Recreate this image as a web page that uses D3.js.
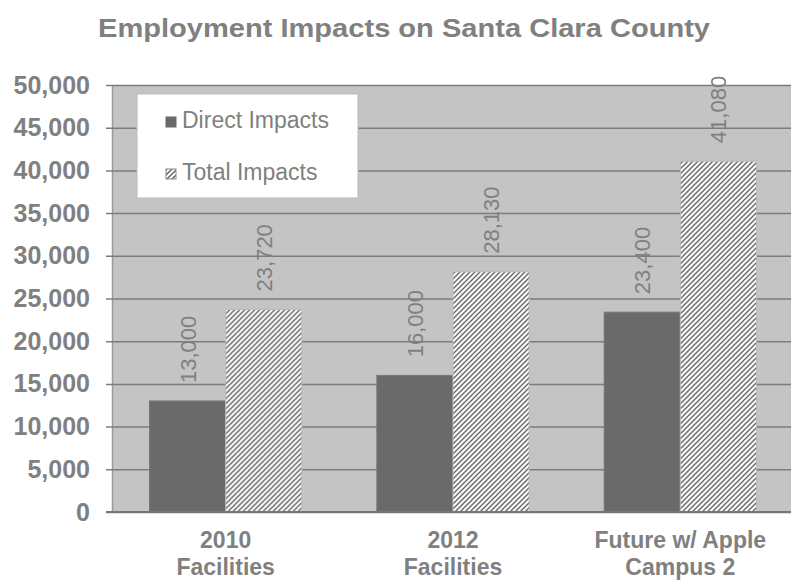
<!DOCTYPE html>
<html>
<head>
<meta charset="utf-8">
<script src="https://cdn.jsdelivr.net/npm/d3@7"></script>
<style>
  body { margin: 0; background: #fff; }
  svg { display: block; font-family: "Liberation Sans", Arial, sans-serif; }
</style>
</head>
<body>
<div id="chart"></div>
<script>
// chart data
var categories = [["2010", "Facilities"], ["2012", "Facilities"], ["Future w/ Apple", "Campus 2"]];
var seriesNames = ["Direct Impacts", "Total Impacts"];
var directValues = [13000, 16000, 23400];
var totalValues = [23720, 28130, 41080];
var yTicks = [0, 5000, 10000, 15000, 20000, 25000, 30000, 35000, 40000, 45000, 50000];

var width = 791, height = 583;
var margin = {left: 112, right: -3, top: 85, bottom: 71};
var textGrey = "#808080";

var svg = d3.select("#chart")
    .append("svg")
    .attr("width", width)
    .attr("height", height);

var defs = svg.append("defs");
var hatch = defs.append("pattern")
    .attr("id", "hatch")
    .attr("patternUnits", "userSpaceOnUse")
    .attr("width", 5)
    .attr("height", 5);
hatch.append("rect").attr("width", 5).attr("height", 5).attr("fill", "#fff");
hatch.append("path")
    .attr("d", "M0,5 L5,0 M-1,1 L1,-1 M4,6 L6,4")
    .attr("stroke", "#5a5a5a")
    .attr("stroke-width", 1.3);

var x0 = d3.scaleBand()
    .domain(d3.range(categories.length))
    .range([margin.left, width - margin.right])
    .paddingInner(0.33)
    .paddingOuter(0.165);
var x1 = d3.scaleBand()
    .domain(seriesNames)
    .range([0, x0.bandwidth()]);
var y = d3.scaleLinear()
    .domain([0, 50000])
    .range([height - margin.bottom, margin.top]);

// plot background
svg.append("rect")
    .attr("x", margin.left)
    .attr("y", margin.top)
    .attr("width", width - margin.left - margin.right)
    .attr("height", y(0) - margin.top)
    .attr("fill", "#c4c4c4");

// gridlines and ticks
var yAxis = svg.append("g")
    .attr("transform", "translate(" + margin.left + ",0)")
    .call(d3.axisLeft(y)
        .tickValues(yTicks)
        .tickSizeInner(-(width - margin.left - margin.right))
        .tickSizeOuter(0)
        .tickPadding(22)
        .tickFormat(d3.format(",")));
yAxis.select(".domain").attr("stroke", "#9a9a9a").attr("stroke-width", 1.5);
yAxis.selectAll(".tick line")
    .attr("x1", -6)
    .attr("stroke", "#7c7c7c")
    .attr("stroke-width", 1.5);
yAxis.selectAll(".tick text")
    .attr("fill", textGrey)
    .style("font-size", "25px")
    .style("font-weight", "bold");

// bars
var rows = categories.map(function(c, i) {
  return [{i: i, s: seriesNames[0], v: directValues[i]}, {i: i, s: seriesNames[1], v: totalValues[i]}];
});
var groups = svg.selectAll("g.group")
    .data(rows)
    .enter()
    .append("g")
    .attr("class", "group")
    .attr("transform", function(d, i) { return "translate(" + x0(i) + ",0)"; });

groups.selectAll("rect")
    .data(function(d) { return d; })
    .enter()
    .append("rect")
    .attr("x", function(d) { return x1(d.s); })
    .attr("y", function(d) { return y(d.v); })
    .attr("width", x1.bandwidth())
    .attr("height", function(d) { return y(0) - y(d.v); })
    .attr("fill", function(d) { return d.s == seriesNames[0] ? "#6a6a6a" : "url(#hatch)"; })
    .attr("stroke", function(d) { return d.s == seriesNames[0] ? "#777" : "#bbb"; })
    .attr("stroke-width", 1);

// value labels, rotated
groups.selectAll("text.value")
    .data(function(d) { return d; })
    .enter()
    .append("text")
    .attr("class", "value")
    .attr("transform", function(d) {
      return "translate(" + (x1(d.s) + x1.bandwidth() / 2 + 8) + "," + (y(d.v) - 18) + ") rotate(-90)";
    })
    .text(function(d) { return d3.format(",")(d.v); })
    .attr("fill", textGrey)
    .style("font-size", "22px");

// bottom axis line
svg.append("line")
    .attr("x1", margin.left - 6)
    .attr("x2", width)
    .attr("y1", y(0))
    .attr("y2", y(0))
    .attr("stroke", "#777")
    .attr("stroke-width", 2);

// category labels
var catLabels = svg.selectAll("text.cat")
    .data(categories)
    .enter()
    .append("text")
    .attr("class", "cat")
    .attr("text-anchor", "middle")
    .attr("fill", textGrey)
    .style("font-size", "23px")
    .style("font-weight", "bold");
catLabels.each(function(d, i) {
  var t = d3.select(this);
  d.forEach(function(line, k) {
    t.append("tspan")
        .attr("x", x0(i) + x0.bandwidth() / 2)
        .attr("y", 548 + k * 27)
        .text(line);
  });
});

// legend
var legend = svg.append("g").attr("transform", "translate(137,94)");
legend.append("rect")
    .attr("width", 221)
    .attr("height", 104)
    .attr("fill", "#fff")
    .attr("stroke", "#bbb");
seriesNames.forEach(function(s, i) {
  legend.append("rect")
      .attr("x", 29)
      .attr("y", 23 + i * 52)
      .attr("width", 10)
      .attr("height", 10)
      .attr("fill", i == 0 ? "#6a6a6a" : "url(#hatch)")
      .attr("stroke", i == 0 ? "#6a6a6a" : "#888");
  legend.append("text")
      .attr("x", 45)
      .attr("y", 34 + i * 52)
      .text(s)
      .attr("fill", textGrey)
      .style("font-size", "23px");
});

// title
svg.append("text")
    .attr("x", 404)
    .attr("y", 37)
    .attr("text-anchor", "middle")
    .attr("textLength", 612)
    .attr("lengthAdjust", "spacingAndGlyphs")
    .text("Employment Impacts on Santa Clara County")
    .attr("fill", textGrey)
    .style("font-size", "25px")
    .style("font-weight", "bold");
</script>
</body>
</html>
